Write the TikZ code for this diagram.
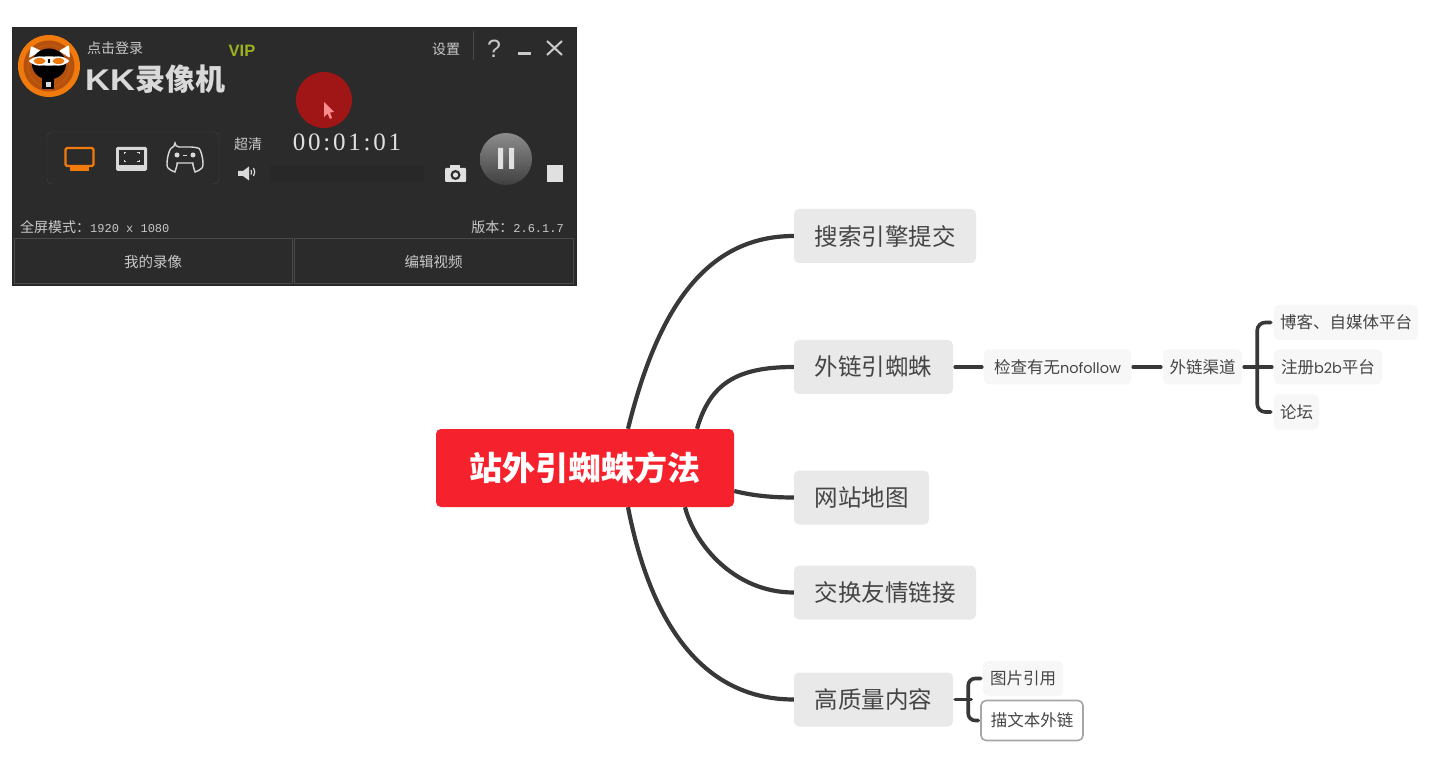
\documentclass[tikz,border=0pt]{standalone}
\usepackage{fontspec}
\setmainfont{Noto Sans CJK SC}
\newfontfamily\latinfont{Liberation Mono}
\newfontfamily\serifdigits[LetterSpace=11]{Liberation Serif}
\newfontfamily\wideface{Poppins}
\newfontfamily\arialface{Liberation Sans}
\usetikzlibrary{calc,shadings}
\definecolor{rootred}{HTML}{F5222D}
\definecolor{mainbox}{HTML}{E9E9E9}
\definecolor{subbox}{HTML}{F7F7F7}
\definecolor{linkdark}{HTML}{383838}
\definecolor{inktext}{HTML}{454545}
\definecolor{winbg}{HTML}{2B2B2B}
\definecolor{winedge}{HTML}{4A4A4A}
\definecolor{wintext}{HTML}{C9C9C9}
\definecolor{kkorange}{HTML}{F07A0C}
\definecolor{kkdeep}{HTML}{B5500F}
\definecolor{vipgreen}{HTML}{9DB021}
\definecolor{recred}{HTML}{A01616}
\newcommand{\fs}[1]{\fontsize{#1}{#1}\selectfont}
\tikzset{
  x=1pt,y=-1pt,
  rootbox/.style={fill=rootred,text=white,rounded corners=5pt,inner sep=0pt,minimum height=78pt,minimum width=298pt,font=\fs{33}\bfseries},
  mainnode/.style={fill=mainbox,text=inktext,rounded corners=5pt,inner sep=0pt,minimum height=54pt,font=\fs{23.5}},
  subnode/.style={fill=subbox,text=inktext,rounded corners=5pt,inner sep=0pt,minimum height=35pt,font=\fs{16.5}},
  picked/.style={fill=white,draw=gray!70,line width=1.6pt,minimum height=40pt},
  link/.style={draw=linkdark,line width=4.2pt},
  thinlink/.style={draw=linkdark,line width=3.6pt,line cap=round},
  wintxt/.style={text=wintext,inner sep=0pt,font=\fs{14}},
  winbtn/.style={draw=winedge,line width=1pt,fill=winbg,inner sep=0pt,text=wintext,font=\fs{14.5}},
}
\begin{document}
\begin{tikzpicture}
\useasboundingbox (0,0) rectangle (1436,759);
\fill[white] (0,0) rectangle (1436,759);

% ---- recorder window
\fill[winbg,draw=black!85,line width=1pt] (12,28) rectangle (576,286);
\node[winbtn,minimum width=278pt,minimum height=45pt] (btnmine) at (153,261.5) {我的录像};
\node[winbtn,minimum width=279pt,minimum height=45pt] (btnedit) at (433.5,261.5) {编辑视频};
% logo
\fill[kkorange] (49,66) circle (31);
\fill[kkdeep] (49,66) circle (25.5);
\draw[kkorange!80!black,line width=.8pt] (49,66) circle (21);
\fill[white,rounded corners=1pt] (29,58) -- (31,46) -- (41,51) -- cycle;
\fill[white,rounded corners=1pt] (59,51) -- (69,45) -- (70,58) -- cycle;
\fill[black] (49,64) ellipse (17 and 15.5);
\fill[black] (42,76) rectangle (54,89);
\fill[white] (49,61) ellipse (20 and 4.6);
\fill[black] (49,61) ellipse (2 and 2);
\fill[white] (39.5,61) ellipse (8.5 and 4.6);
\fill[white] (58.5,61) ellipse (8.5 and 4.6);
\fill[kkorange] (39.5,61) ellipse (6 and 3);
\fill[kkorange] (58.5,61) ellipse (6 and 3);
\fill[white!85!black] (45.5,82) rectangle (51,87.5);
% header text
\node[wintxt] (login) at (115,48) {点击登录};
\node[inner sep=0pt,text=vipgreen,font=\fs{16.5}\arialface\bfseries] (vip) at (242,51) {VIP};
\node[inner sep=0pt,text=white!85!black,font=\fs{30}\bfseries,anchor=west] (brand) at (85,79) {\scalebox{1.15}[1]{\arialface\bfseries KK}录像机};
\node[wintxt] (settings) at (446,49) {设置};
\draw[winedge] (473,31) -- (473,60);
\node[inner sep=0pt,text=wintext,font=\fs{25}\arialface] (help) at (494,49) {?};
\fill[wintext] (518,52) rectangle (531,55);
\draw[wintext,line width=2pt] (547,41) -- (562,55) (562,41) -- (547,55);
% recording dot and cursor
\fill[recred] (324,100) circle (28);
\fill[red!45!white] (324,102) -- (324,117) -- (327.5,113.5) -- (330,119) -- (332,118) -- (330,112.5) -- (334,112) -- cycle;
\node[inner sep=0pt,text=white!88!black,font=\fs{25}\serifdigits] (clock) at (347,142) {00:01:01};
% mode panel
\draw[winedge!70!winbg,rounded corners=5pt] (47,132) rectangle (219,184);
\draw[kkorange,line width=2.4pt,rounded corners=1.5pt] (65.5,148) rectangle (93.5,166);
\fill[kkorange] (70,167) rectangle (89,171.5);
\fill[white!85!black,rounded corners=1.5pt] (116,147) rectangle (147,171);
\fill[winbg] (119,150) rectangle (144,165);
\draw[white!85!black,line width=1pt] (124,154) -- (124,152.5) -- (126,152.5) (137,152.5) -- (139,152.5) -- (139,154) (124,160) -- (124,162) -- (126,162) (137,162) -- (139,162) -- (139,160);
\draw[white!85!black,line width=1.4pt,rounded corners=4pt] (175,147) -- (195,147) .. controls (201,149) and (205,165) .. (199,171) .. controls (195,172) and (192,163) .. (189,163) -- (181,163) .. controls (178,163) and (175,172) .. (171,171) .. controls (165,165) and (169,149) .. cycle;
\fill[white!85!black] (177,155) circle (2.5) (193,155) circle (2.5);
\fill[white!85!black] (183,155) rectangle (187,156);
% quality, volume
\node[wintxt] (quality) at (248,144) {超清};
\fill[white!85!black] (238,171) rectangle (243,176) (243,171) -- (249,166.5) -- (249,180.5) -- (243,176) -- cycle;
\draw[white!85!black,line width=1.2pt] (251,170) arc (-30:30:4.5) (253.5,168) arc (-35:35:7);
\fill[winbg!93!black] (270,165) rectangle (424,182);
% camera, pause, stop
\fill[white!88!black,rounded corners=1pt] (445,168) rectangle (466,182);
\fill[white!88!black] (450,165) rectangle (460,168);
\fill[winbg] (455.5,175) circle (5);
\fill[white!88!black] (455.5,175) circle (2.6);
\shade[top color=gray!90!white,bottom color=black!75] (506,159) circle (26);
\fill[white!88!black] (498,148) rectangle (503,169) (509,148) rectangle (514,169);
\fill[white!88!black] (547,165) rectangle (563,182);
% status line
\node[wintxt,anchor=west] (mode) at (20,227) {全屏模式：{\latinfont\fs{12}1920 x 1080}};
\node[wintxt,anchor=east] (version) at (564,227) {版本：{\latinfont\fs{12}2.6.1.7}};

% ---- mind map nodes
\node[rootbox] (root) at (585,468) {站外引蜘蛛方法};
\node[mainnode,minimum width=182pt] (n1) at (885,236) {搜索引擎提交};
\node[mainnode,minimum width=159pt] (n2) at (873.5,367) {外链引蜘蛛};
\node[mainnode,minimum width=135pt] (n3) at (861.5,497.5) {网站地图};
\node[mainnode,minimum width=182pt] (n4) at (885,592.5) {交换友情链接};
\node[mainnode,minimum width=159pt] (n5) at (873.5,699.5) {高质量内容};
\node[subnode,minimum width=147pt] (check) at (1057.5,367) {检查有无{\wideface\fs{14.5}nofollow}};
\node[subnode,minimum width=79pt] (channel) at (1202.5,367) {外链渠道};
\node[subnode,minimum width=144pt] (blog) at (1346,322.5) {博客、自媒体平台};
\node[subnode,minimum width=108pt] (b2b) at (1328,367) {注册{\wideface\fs{14.5}b2b}平台};
\node[subnode,minimum width=45pt] (forum) at (1296.5,412) {论坛};
\node[subnode,minimum width=80pt] (image) at (1023,678.5) {图片引用};
\node[subnode,picked,minimum width=102pt] (anchortext) at (1032,720.5) {描文本外链};

% ---- connectors
\draw[link] ([xshift=43pt]root.north) .. controls +(27,-109) and +(-94,0) .. (n1.west);
\draw[link] ([xshift=112pt]root.north) .. controls +(13,-44) and +(-59,0) .. (n2.west);
\draw[link] ([yshift=-23pt]root.east) .. controls +(20,5) and +(-20,0) .. (n3.west);
\draw[link] ([xshift=100pt]root.south) .. controls +(10,38) and +(-59,0) .. (n4.west);
\draw[link] ([xshift=43pt]root.south) .. controls +(20,103) and +(-99,0) .. (n5.west);
\draw[thinlink] ([xshift=2pt]n2.east) -- ([xshift=-2pt]check.west);
\draw[thinlink] ([xshift=2pt]check.east) -- ([xshift=-2pt]channel.west);
\draw[thinlink] ([xshift=2pt]channel.east) -- ([xshift=-2pt]b2b.west);
\draw[thinlink,rounded corners=8pt] ([xshift=-3pt]blog.west) -| ($(channel.east)+(15,0)$) |- ([xshift=-3pt]forum.west);
\draw[thinlink] ([xshift=2pt]n5.east) -- ([xshift=-9pt]anchortext.west |- n5.east);
\draw[thinlink,rounded corners=7pt] ([xshift=-2pt]image.west) -| ($(n5.east)+(15,0)$) |- ([xshift=-2pt]anchortext.west);
\end{tikzpicture}
\end{document}
